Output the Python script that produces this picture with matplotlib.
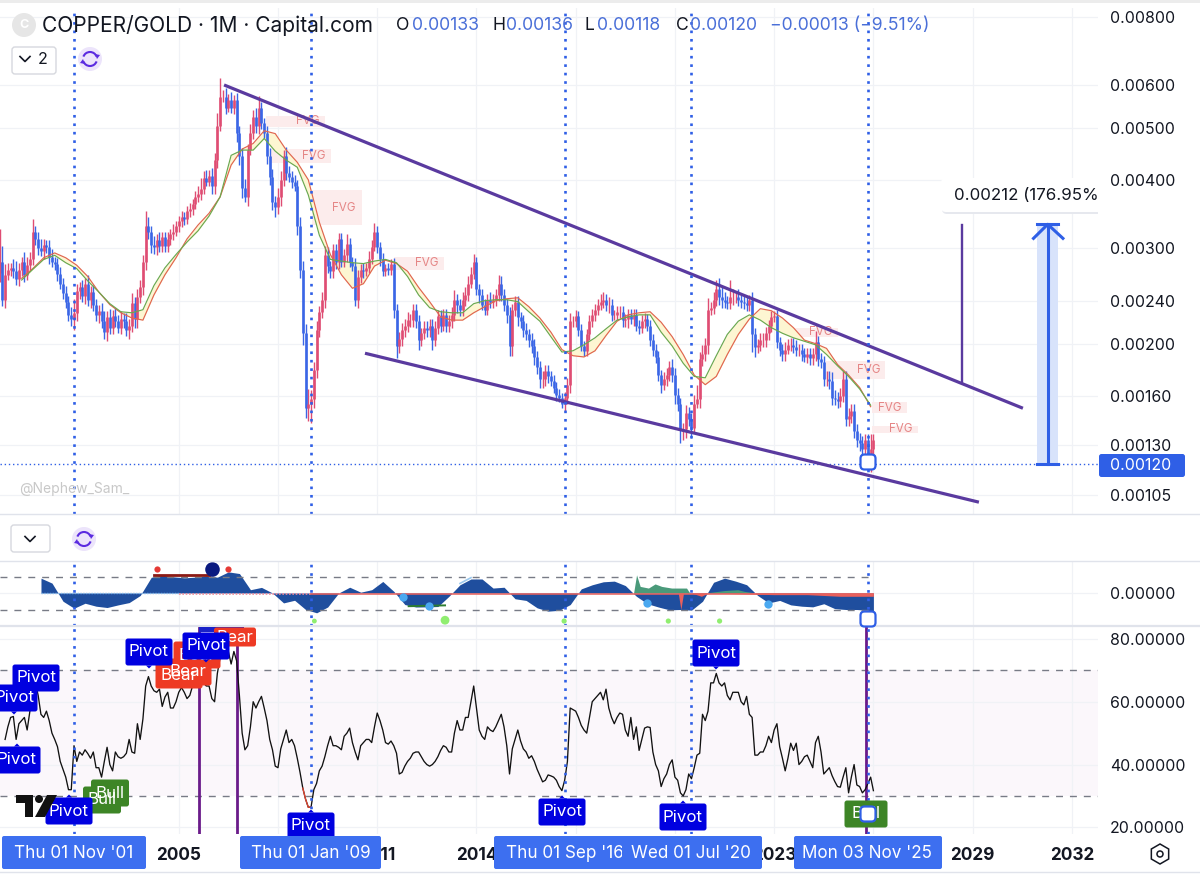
#!/usr/bin/env python3
"""COPPER/GOLD monthly chart with oscillator and RSI panes, values read off the screenshot."""
import numpy as np
import matplotlib
matplotlib.use("Agg")
import matplotlib.pyplot as plt
from matplotlib.patches import FancyBboxPatch, Rectangle, Circle, Polygon, RegularPolygon, Arc

plt.rcParams["font.family"] = ["Inter", "DejaVu Sans"]

W, H = 1200, 883
TXT = "#131722"
BLUE = "#2f5fe6"
LABEL = "#3d6ff0"
PURPLE = "#5a3a9f"
UP = "#df4d73"
DOWN = "#3b66e6"
GRID = "#f0f2f6"

# ---- monthly data, Aug 1999 to Jan 2026, prices in units of 1e-5 ----
start_year = 1999 + 7 / 12
first_open = 270
close = [
    283, 241, 268, 274, 276,
    272, 263, 274, 283, 268, 279, 287, 322, 312, 300, 296, 304,
    302, 289, 283, 280, 269, 258, 248, 239, 226, 222, 228, 250,
    254, 245, 258, 241, 249, 236, 226, 230, 220, 210, 224, 214,
    225, 220, 214, 222, 220, 212, 216, 238, 222, 244, 254, 283,
    330, 322, 304, 301, 311, 303, 314, 303, 312, 318, 322, 330,
    336, 342, 339, 351, 354, 362, 373, 378, 385, 404, 398, 408,
    390, 437, 505, 570, 570, 545, 562, 545, 562, 490, 443, 388,
    373, 455, 490, 524, 504, 545, 510, 490, 443, 406, 365, 357,
    373, 400, 443, 413, 406, 397, 390, 329, 274, 209, 152, 155,
    158, 179, 212, 229, 241, 291, 278, 272, 298, 283, 312, 283,
    291, 305, 283, 278, 241, 265, 274, 272, 276, 287, 302, 322,
    302, 286, 272, 276, 274, 280, 231, 198, 204, 212, 216, 221,
    221, 231, 220, 203, 209, 214, 212, 216, 203, 214, 225, 216,
    226, 216, 220, 226, 241, 236, 231, 241, 246, 258, 269, 283,
    252, 246, 236, 231, 241, 239, 241, 246, 258, 246, 236, 226,
    198, 231, 239, 224, 220, 212, 208, 203, 198, 189, 181, 172,
    172, 178, 174, 171, 166, 161, 159, 155, 159, 168, 220, 220,
    225, 212, 198, 194, 208, 220, 226, 231, 236, 239, 241, 236,
    236, 226, 226, 229, 229, 221, 222, 226, 222, 226, 216, 214,
    220, 222, 216, 203, 195, 189, 175, 168, 172, 175, 181, 175,
    161, 155, 139, 139, 149, 145, 140, 155, 158, 187, 191, 199,
    231, 233, 241, 252, 244, 241, 239, 238, 244, 244, 244, 241,
    239, 238, 236, 241, 208, 197, 199, 203, 203, 209, 216, 224,
    225, 201, 195, 191, 195, 199, 199, 197, 195, 195, 191, 189,
    191, 188, 191, 201, 187, 185, 172, 172, 171, 159, 158, 157,
    160, 172, 145, 147, 150, 138, 133, 131, 128, 133, 120, 128,
    133,
]
upper_wick = [
    42, 20, 12, 8, 6,
    10, 12, 8, 6, 12, 10, 8, 18, 8, 10, 12, 8,
    6, 8, 10, 6, 8, 8, 6, 8, 6, 8, 14, 8,
    6, 8, 6, 10, 6, 8, 6, 6, 8, 10, 6, 8,
    6, 8, 6, 8, 6, 8, 6, 10, 6, 8, 8, 8,
    22, 12, 8, 12, 8, 10, 8, 8, 10, 8, 10, 6,
    8, 10, 8, 8, 10, 8, 10, 12, 20, 12, 14, 10,
    14, 12, 28, 48, 18, 22, 16, 20, 14, 18, 14, 16,
    14, 12, 18, 16, 20, 28, 14, 12, 14, 16, 14, 10,
    14, 16, 12, 18, 12, 10, 12, 10, 14, 10, 8, 10,
    6, 6, 8, 6, 8, 12, 10, 6, 8, 8, 8, 8,
    8, 14, 8, 6, 10, 8, 6, 8, 6, 10, 8, 12,
    8, 6, 8, 5, 6, 6, 8, 6, 6, 6, 6, 8,
    6, 6, 6, 6, 5, 6, 6, 6, 6, 6, 6, 6,
    6, 6, 6, 8, 10, 6, 6, 8, 8, 8, 8, 10,
    6, 6, 6, 6, 6, 8, 6, 6, 10, 8, 6, 6,
    8, 6, 6, 6, 5, 6, 6, 5, 6, 6, 5, 5,
    6, 5, 5, 4, 4, 4, 4, 3, 4, 5, 8, 5,
    6, 5, 5, 4, 5, 6, 6, 6, 6, 8, 8, 6,
    8, 6, 5, 6, 6, 6, 5, 6, 6, 6, 6, 5,
    6, 6, 5, 5, 5, 5, 5, 4, 5, 5, 5, 6,
    5, 5, 4, 4, 5, 4, 4, 6, 10, 6, 8, 6,
    12, 6, 8, 10, 12, 10, 8, 6, 18, 8, 6, 8,
    5, 6, 6, 5, 8, 6, 5, 6, 6, 6, 5, 6,
    5, 6, 5, 5, 6, 5, 6, 6, 6, 5, 5, 5,
    5, 5, 5, 10, 6, 5, 5, 6, 6, 6, 5, 5,
    6, 6, 6, 5, 5, 5, 4, 4, 4, 3, 3, 8,
    3,
]
lower_wick = [
    10, 6, 8, 6, 8,
    8, 6, 8, 8, 8, 6, 6, 8, 8, 8, 6, 10,
    8, 8, 6, 6, 8, 6, 6, 6, 6, 6, 10, 8,
    8, 6, 8, 6, 8, 6, 6, 8, 6, 6, 8, 6,
    6, 5, 5, 6, 6, 5, 8, 6, 8, 8, 6, 8,
    10, 10, 10, 8, 10, 8, 8, 8, 8, 8, 8, 6,
    8, 8, 8, 6, 8, 8, 8, 8, 10, 8, 8, 8,
    12, 12, 16, 12, 12, 14, 10, 12, 14, 20, 16, 16,
    8, 14, 10, 14, 14, 16, 12, 10, 14, 14, 12, 14,
    10, 14, 10, 12, 8, 10, 8, 12, 10, 10, 6, 8,
    12, 6, 6, 6, 6, 8, 8, 8, 8, 8, 8, 6,
    6, 8, 6, 6, 6, 8, 6, 8, 6, 6, 6, 6,
    8, 8, 6, 6, 6, 6, 8, 10, 6, 6, 6, 6,
    6, 6, 6, 8, 5, 5, 6, 6, 8, 5, 6, 6,
    5, 6, 6, 6, 6, 8, 6, 6, 6, 6, 5, 6,
    6, 8, 5, 5, 5, 6, 6, 6, 6, 6, 6, 8,
    8, 8, 6, 8, 6, 6, 5, 6, 6, 6, 5, 6,
    6, 5, 5, 4, 4, 4, 3, 3, 5, 4, 6, 5,
    5, 5, 4, 4, 4, 5, 5, 6, 5, 5, 6, 6,
    8, 6, 5, 5, 6, 6, 6, 8, 5, 6, 5, 6,
    5, 6, 5, 5, 5, 5, 4, 6, 4, 5, 4, 5,
    6, 5, 8, 6, 5, 4, 6, 3, 3, 6, 5, 5,
    8, 5, 6, 6, 8, 8, 6, 6, 6, 8, 6, 6,
    6, 6, 6, 6, 15, 8, 5, 5, 6, 6, 6, 6,
    5, 5, 5, 5, 5, 4, 5, 5, 5, 5, 5, 4,
    5, 5, 5, 5, 5, 5, 5, 5, 6, 5, 4, 5,
    4, 4, 4, 4, 4, 4, 4, 4, 4, 4, 2, 4,
    4,
]
rsi = [
    np.nan, np.nan, 48, 52, 55,
    55.3, 48, 53, 54, 55, 51, 57, 60, 66, 62, 56, 55,
    57, 54, 50, 48, 45.7, 41, 38.5, 36, 32, 32, 46, 41,
    44, 43, 44.7, 43.5, 42, 44, 39, 39, 36, 41, 45.5, 40,
    38, 44, 42.5, 42, 42.5, 43.6, 48, 44, 43.6, 53, 48, 54.5,
    65, 68, 65, 63.5, 63, 64, 58.5, 61.5, 63, 58, 58, 60,
    63, 64.5, 63, 61, 62, 65, 66, 66, 67, 66, 65, 65,
    61, 60, 69, 74, 77, 75, 76, 72, 76, 73, 62, 50,
    44.7, 46, 52, 60, 58, 60, 61.7, 58, 54, 48, 44.7, 39.5,
    39, 45, 48, 51, 47, 48, 46, 42, 37.5, 32.5, 29, 26.4,
    26.5, 32, 34, 38, 39.5, 42.5, 46, 49, 46, 46, 45.5, 44.7,
    49, 50, 51.6, 47, 44, 41.5, 46, 47, 48, 48, 47, 52,
    56.4, 54, 51, 47, 46.5, 47.5, 46, 43.6, 37, 37.5, 39.5, 41,
    42, 43.6, 44, 44, 42.5, 41, 40, 39.5, 40, 41, 42.5, 44.5,
    46, 45.5, 44, 44, 50, 54, 51, 51, 55, 55, 60, 65,
    58, 51, 49, 48, 52, 51, 50.5, 52, 54, 56, 52, 46,
    37, 45, 48, 51, 47.5, 45, 44, 42, 42.8, 41, 38.5, 36.5,
    34.5, 35, 36.7, 36.4, 36, 35, 33, 31.7, 35, 41, 58, 57.5,
    57, 55, 52.5, 51, 50, 55, 60, 61, 62, 63, 60.6, 64,
    58, 55, 53, 55, 56.4, 56, 51, 49, 55, 48, 52, 44.5,
    48, 51.6, 52, 51.8, 44, 40, 38, 33, 35.5, 37, 40, 41.5,
    36, 35, 31, 30, 32, 37, 35.5, 39, 43, 43.6, 56, 54,
    57, 66, 66, 69, 66, 65, 66, 62, 60.6, 63, 63, 63,
    60, 59, 61.7, 56, 55, 43, 43, 44, 44, 46, 49, 47,
    51, 53, 45.7, 42, 38, 42, 46.8, 44.5, 46.8, 40, 41, 42.5,
    43, 41, 39, 47, 49, 44, 37, 38, 39, 36.5, 34.6, 33,
    32.8, 36, 39, 31, 36, 40, 33.5, 33, 31, 32, 34, 36,
    31.7,
]

# moving averages, one value every four months from early 2000
ma_start = 2000.25
ma_slow = [
    264, 275, 288, 294, 288, 279, 266, 249, 236, 228, 223, 221, 246, 268, 288, 312, 331, 348,
    373, 427, 457, 468, 494, 488, 455, 432, 401, 335, 292, 268, 253, 258, 278, 285, 281, 272,
    254, 239, 224, 221, 221, 228, 234, 240, 242, 243, 234, 223, 210, 195, 190, 189, 194, 207,
    220, 226, 228, 229, 219, 206, 191, 175, 168, 174, 191, 208, 222, 232, 230, 223, 214, 203,
    200, 196, 183, 175, 166, 153,
]
ma_fast = [
    262, 274, 286, 291, 282, 275, 261, 249, 237, 229, 228, 231, 256, 276, 292, 308, 323, 344,
    373, 445, 455, 455, 478, 453, 436, 423, 376, 317, 286, 284, 282, 281, 284, 286, 282, 266,
    246, 233, 229, 228, 228, 237, 240, 241, 241, 239, 229, 220, 206, 193, 194, 199, 205, 213,
    221, 224, 226, 226, 210, 198, 184, 174, 173, 190, 208, 220, 226, 221, 214, 209, 205, 202,
    199, 191, 182, 174, 165, 154,
]

# oscillator, scaled so the dashed guides sit at +/-1
osc_start = 2000.835
osc_main = [
    .9, .6, -.5, -.92, -.62, -.8, -.88, -.72, -.58, -.15, .95, 1.08, .98, .92, .96, 1.04, .96, 1.28,
    1.18, .2, .34, 0, -.6, -.44, -1.0, -1.2, -.85, 0, .35, .05, .2, .7, .1, -.7, -.85, -.84,
    -.82, -.2, .5, .85, .85, .3, .35, -.35, -.45, -.9, -1.1, -1.05, -.7, .25, .5, .68, .72, .45,
    -.2, -.65, -.85, -1.02, -1, -1.04, -.5, .65, .9, .72, .5, -.15, -.6, -.45, -.72, -.8, -.84,
    -.65, -.95, -1, -1, -1.05, -1.1,
]
osc_green_years = [2018.75, 2018.84, 2018.95, 2019.2, 2019.4, 2019.6, 2019.9, 2020.1, 2020.35,
                   2020.45, 2020.6, 2020.9, 2021.3, 2021.5, 2021.9, 2022.1, 2022.45]
osc_green = [0, 1.1, .4, .3, .55, .4, .3, .3, .3, 0, 0, 0, .1, .15, .2, .1, 0]
osc_red_years = [2020.1, 2020.18, 2020.26, 2020.5, 2020.8, 2021.0, 2023.0, 2024.0, 2025.0, 2026.0]
osc_red = [0, -1.0, 0, 0, -.2, 0, -.1, -.1, -.2, -.2]
osc_bull_years = [2011.78, 2012.56, 2019.15, 2022.8]
osc_bull = [-.25, -.8, -.6, -.65]
osc_up_years = [2009.1, 2013.05, 2016.65, 2019.8, 2021.35]
osc_up = [-1.7, -1.65, -1.7, -1.7, -1.7]
osc_up_size = [12, 40, 14, 14, 14]

# falling wedge and measured move (years, prices in 1e-5)
wedge_top_years, wedge_top = [2006.37, 2030.52], [600, 152]
wedge_low_years, wedge_low = [2010.63, 2029.19], [192, 102]
move_years, move_prices = [2028.68, 2028.68], [331, 170]
target_year, target_low, target_high = 2031.27, 120, 332

fvg_left = [2007.64, 2007.76, 2009.03, 2011.51, 2023.51, 2024.57, 2025.96, 2025.96]
fvg_right = [2009.42, 2009.60, 2010.54, 2013.02, 2024.93, 2026.35, 2027.02, 2027.35]
fvg_top = [526, 457, 384, 289, 214, 186, 156, 141]
fvg_bottom = [502, 431, 331, 274, 206, 172, 149, 137]
fvg_label = [2008.91, 2009.09, 2010.00, 2012.50, 2024.41, 2025.87, 2026.50, 2026.83]

crosshair_years = [2001.833, 2009.0, 2016.667, 2020.5, 2025.833]
grid_years = list(range(2005, 2033, 3))
shown_years = [2005, 2011, 2014, 2023, 2029, 2032]
price_ticks = [800, 600, 500, 400, 300, 240, 200, 160, 130, 105]
rsi_ticks = [80, 60, 40, 20]
last_price = 120

XMIN, XMAX = 1999.596, 2032.79
years = start_year + np.arange(len(close)) / 12
c = np.array(close) * 1e-5
o = np.r_[first_open * 1e-5, c[:-1]]
hi = np.maximum(o, c) + np.array(upper_wick) * 1e-5
lo = np.minimum(o, c) - np.array(lower_wick) * 1e-5

fig = plt.figure(figsize=(W / 100, H / 100), dpi=100, facecolor="white")


def pane(top, bottom):
    ax = fig.add_axes([0, 1 - bottom / H, 1098 / W, (bottom - top) / H])
    for s in ax.spines.values():
        s.set_visible(False)
    ax.set_xlim(XMIN, XMAX)
    ax.set_xticks(grid_years)
    ax.grid(True, color=GRID, lw=0.9)
    ax.set_axisbelow(True)
    ax.yaxis.tick_right()
    ax.tick_params(length=0, labelbottom=False, pad=8.6, labelsize=11.4, labelcolor=TXT)
    for yr in crosshair_years:
        ax.axvline(yr, color=BLUE, lw=1.9, ls=(0, (1, 2.2)), zorder=6)
    return ax


# ---- price pane ----
ax = pane(8, 514)
ax.set_yscale("log")
ax.set_ylim(0.00097, 0.00832)
ax.set_yticks([t * 1e-5 for t in price_ticks])
ax.set_yticklabels([f"{t * 1e-5:.5f}" for t in price_ticks])
ax.minorticks_off()

for i in range(len(fvg_left)):
    ax.fill_between([fvg_left[i], fvg_right[i]], fvg_bottom[i] * 1e-5, fvg_top[i] * 1e-5,
                    color="#fcecec", lw=0, zorder=1)
    ax.text(fvg_label[i], np.sqrt(fvg_top[i] * fvg_bottom[i]) * 1e-5, "FVG", color="#e58686",
            fontsize=8.4, ha="center", va="center", zorder=2)

ma_years = ma_start + np.arange(len(ma_slow)) / 3
slow = np.array(ma_slow) * 1e-5
fast = np.array(ma_fast) * 1e-5
ax.fill_between(ma_years, slow, fast, color="#fdf6d2", lw=0, zorder=2)

colors = np.where(c >= o, UP, DOWN)
ax.vlines(years, lo, hi, colors=colors, lw=1.0, zorder=3)
ax.vlines(years, o, c, colors=colors, lw=1.9, zorder=3)

ax.plot(ma_years, slow, color="#e0654f", lw=0.85, zorder=4)
ax.plot(ma_years, fast, color="#6aa84f", lw=0.85, zorder=4)

ax.plot(wedge_top_years, np.array(wedge_top) * 1e-5, color=PURPLE, lw=2.3, zorder=5,
        solid_capstyle="butt")
ax.plot(wedge_low_years, np.array(wedge_low) * 1e-5, color=PURPLE, lw=2.3, zorder=5,
        solid_capstyle="butt")
ax.plot(move_years, np.array(move_prices) * 1e-5, color=PURPLE, lw=1.7, zorder=5)

ax.axhline(last_price * 1e-5, color=BLUE, lw=1.0, ls=(0, (1, 2)), zorder=2)
ax.fill_between([target_year - 0.32, target_year + 0.32], target_low * 1e-5, target_high * 1e-5,
                color="#d8e3fb", lw=0, zorder=3)
ax.plot([target_year, target_year], [target_low * 1e-5, target_high * 1e-5], color=BLUE, lw=2.2,
        zorder=5)
for p in (target_low, target_high):
    ax.plot([target_year - 0.32, target_year + 0.32], [p * 1e-5, p * 1e-5], color=BLUE, lw=2.2,
            zorder=5)
ax.plot([target_year - 0.43, target_year, target_year + 0.46],
        [target_high * 0.942e-5, target_high * 1e-5, target_high * 0.942e-5], color=BLUE, lw=2.2,
        zorder=5)

# ---- oscillator pane ----
ax2 = pane(561, 626)
ax2.set_ylim(-2, 1.94)
ax2.set_yticks([0])
ax2.set_yticklabels(["0.00000"])
osc_years = np.r_[osc_start + np.arange(len(osc_main) - 1) / 3, 2026.0]
osc_vals = np.array(osc_main)
# pale edge only shows on the rising stretches above zero
rising = np.r_[False, np.diff(osc_vals) > 0.25] & (osc_vals > 0)
ax2.plot(osc_years, np.ma.masked_where(~rising, osc_vals + 0.08), color="#9cc9ee", lw=1.2, zorder=2)
ax2.fill_between(osc_years, 0, osc_vals, color="#1f4e9e", lw=0, zorder=3)
ax2.fill_between(osc_green_years, 0, osc_green, color="#4a9a7a", lw=0, zorder=4)
ax2.fill_between(osc_red_years, 0, osc_red, color="#e8605c", lw=0, zorder=4)
ax2.plot([2000.835, 2005.0], [0, 0], color="#7db4ea", lw=1.0, ls=(0, (1, 1)), zorder=4)
ax2.plot([2005.0, 2009.0], [-0.04, -0.04], color="#f08a9a", lw=1.2, ls=(0, (1, 1)), zorder=4)
ax2.plot([2009.0, 2026.0], [-0.04, -0.04], color="#e8605c", lw=1.1, zorder=4)
for level in (1, -1):
    ax2.plot([XMIN, 2026.0], [level, level], color="#787b86", lw=1.0, ls=(0, (5, 5)), zorder=4)
ax2.plot([2004.25, 2005.9], [1.12, 1.12], color="#8b1a14", lw=2.0, zorder=5)
ax2.plot([2011.95, 2013.05], [-.8, -.75], color="#2e7d32", lw=1.4, zorder=5)
ax2.scatter([2004.33, 2006.5], [1.45, 1.45], s=20, color="#e53935", lw=0, zorder=6)
ax2.scatter([2006.0], [1.45], s=110, color="#0a1a80", lw=0, zorder=6)
ax2.scatter(osc_bull_years, osc_bull, s=36, color="#4aa8f0", lw=0, zorder=6)
ax2.scatter(osc_up_years, osc_up, s=osc_up_size, color="#90ee70", lw=0, zorder=6)

# ---- RSI pane ----
ax3 = pane(626, 834)
ax3.set_ylim(17.9, 84.1)
ax3.set_yticks(rsi_ticks)
ax3.set_yticklabels([f"{t:.5f}" for t in rsi_ticks])
ax3.axhspan(30, 70, color="#fbf7fb", lw=0, zorder=0)
ax3.axhline(70, color="#787b86", lw=1.0, ls=(0, (5, 5)), zorder=2)
ax3.axhline(30, color="#787b86", lw=1.0, ls=(0, (5, 5)), zorder=2)
ax3.plot(years, rsi, color="#111111", lw=0.95, zorder=5)
ax3.plot(years[110:114], rsi[110:114], color="#e0442e", lw=0.95, zorder=5)
for yr in (2005.61, 2006.77, 2025.77):
    ax3.axvline(yr, color="#6a1b8a", lw=2.0, zorder=4)
ax3.set_xticks(shown_years)
ax3.set_xticks(grid_years, minor=True)
ax3.grid(True, which="minor", color=GRID, lw=0.9)
ax3.tick_params(axis="x", which="minor", length=0)
ax3.set_xticklabels([str(y) for y in shown_years], fontweight="bold", fontsize=12.4)
ax3.tick_params(axis="x", labelbottom=True, pad=9)

# ---- screen furniture, in pixel coordinates ----
ui = fig.add_axes([0, 0, 1, 1], zorder=10)
ui.set_xlim(0, W)
ui.set_ylim(H, 0)
ui.axis("off")

for y in (514, 561, 872):
    ui.plot([0, W], [y, y], color="#e0e3eb", lw=1.0)
ui.plot([0, W], [626, 626], color="#e0e3eb", lw=1.6)
ui.add_patch(Rectangle((0, 0), W, 3, color="#ececec", lw=0))


def tag(x0, y0, x1, y1, color, z=11, r=2.5):
    ui.add_patch(FancyBboxPatch((x0 + r, y0 + r), x1 - x0 - 2 * r, y1 - y0 - 2 * r,
                                boxstyle=f"round,pad={r},rounding_size={r}", fc=color, ec="none",
                                zorder=z))


def flag(cx, cy, text, color, width=47, height=27, nub=None, tc="white", z=11):
    tag(cx - width / 2, cy - height / 2, cx + width / 2, cy + height / 2, color, z=z)
    if nub == "up":
        ui.add_patch(Polygon([(cx - 3, cy - height / 2), (cx, cy - height / 2 - 3),
                              (cx + 3, cy - height / 2)], fc=color, ec="none", zorder=z))
    if nub == "down":
        ui.add_patch(Polygon([(cx - 3, cy + height / 2), (cx, cy + height / 2 + 3),
                              (cx + 3, cy + height / 2)], fc=color, ec="none", zorder=z))
    ui.text(cx, cy, text, color=tc, fontsize=12.2, ha="center", va="center", zorder=z + 0.1)


def handle(cx, cy):
    ui.add_patch(FancyBboxPatch((cx - 4, cy - 4), 8, 8, boxstyle="round,pad=3.5,rounding_size=4",
                                fc="white", ec=BLUE, lw=1.6, zorder=14))


def sync_icon(cx, cy):
    ui.add_patch(Circle((cx, cy), 12, fc="#ece4fb", ec="none"))
    ui.add_patch(Arc((cx, cy), 14, 14, theta1=200, theta2=340, color="#5b2be0", lw=1.5))
    ui.add_patch(Arc((cx, cy), 14, 14, theta1=20, theta2=160, color="#5b2be0", lw=1.5))
    ui.add_patch(Polygon([(cx + 5, cy - 5), (cx + 10, cy - 4), (cx + 7, cy)], fc="#5b2be0", ec="none"))
    ui.add_patch(Polygon([(cx - 5, cy + 5), (cx - 10, cy + 4), (cx - 7, cy)], fc="#5b2be0", ec="none"))


def chevron(cx, cy):
    ui.plot([cx - 5, cx, cx + 5], [cy - 2.5, cy + 2.5, cy - 2.5], color=TXT, lw=1.2)


# header
ui.add_patch(Circle((24, 25), 12, fc="#e6e6e6", ec="none"))
ui.text(24, 25.5, "C", color="white", fontsize=9, ha="center", va="center", fontweight="bold")
ui.text(42, 26, "COPPER/GOLD · 1M · Capital.com", color=TXT, fontsize=15.1, va="center")
for x, s in [(396, "O"), (492, "H"), (585, "L"), (676, "C")]:
    ui.text(x, 26, s, color=TXT, fontsize=12.7, va="center")
for x, s in [(412, "0.00133"), (506, "0.00136"), (597, "0.00118"), (690, "0.00120"),
             (770, "−0.00013 (−9.51%)")]:
    ui.text(x, 26, s, color="#4a6fd8", fontsize=12.7, va="center")

# pane buttons
ui.add_patch(FancyBboxPatch((14, 49), 40, 23, boxstyle="round,pad=2,rounding_size=3", fc="white",
                            ec="#d6d8de", lw=1.0))
chevron(25, 59)
ui.text(43, 60, "2", color=TXT, fontsize=11.5, ha="center", va="center")
sync_icon(90, 59)
ui.add_patch(FancyBboxPatch((13, 527), 35, 23, boxstyle="round,pad=2,rounding_size=3", fc="white",
                            ec="#d6d8de", lw=1.0))
chevron(30, 539)
sync_icon(84, 539)

ui.text(19, 489, "@Nephew_Sam_", color="#c8c8c8", fontsize=10, va="center")

# measured move label, cut off by the price scale
clip = Rectangle((930, 170), 168, 50, transform=ui.transData, fc="none", ec="none")
ui.add_patch(clip)
shadow = FancyBboxPatch((945, 182), 170, 29, boxstyle="round,pad=3,rounding_size=5", fc="#e6e8ee",
                        ec="none", zorder=11)
box = FancyBboxPatch((944, 181), 170, 28, boxstyle="round,pad=3,rounding_size=5", fc="white",
                     ec="none", zorder=11)
ui.add_patch(shadow)
ui.add_patch(box)
shadow.set_clip_path(clip)
box.set_clip_path(clip)
move_text = ui.text(954, 195.5, "0.00212 (176.95%)", color=TXT, fontsize=12.2, va="center", zorder=12)
move_text.set_clip_path(clip)
move_text.set_clip_on(True)

tag(1099, 454, 1185, 477, BLUE)
ui.text(1110, 465.5, "0.00120", color="white", fontsize=11.4, va="center", zorder=12)

handle(868, 462)
handle(868, 619)

# RSI pane flags
PIVOT = "#0000e0"
BEAR = "#ee3a24"
BULL = "#3d8526"
flag(102, 800, "Bull", BULL, width=38)
flag(110, 793, "Bull", BULL, width=38)
flag(197, 655, "Bear", BEAR)
flag(179, 675, "Bear", BEAR)
flag(188, 672, "Bear", BEAR)
ui.add_patch(Rectangle((199, 627), 45, 5, fc="#1a22c8", ec="none", zorder=11))
flag(235, 637, "Bear", BEAR, width=42, height=19)
for cx, cy, nub in [(36, 678, None), (14, 698, "down"), (17, 760, "up"), (69, 811, "up"),
                    (149, 652, "down"), (206, 646, "down"), (311, 826, "up"), (562, 812, "up"),
                    (716, 653, "down"), (683, 817, "up")]:
    flag(cx, cy, "Pivot", PIVOT, nub=nub, z=12)

flag(866, 814, "Bull", BULL, width=43)
handle(868, 814)

# TradingView mark
ui.add_patch(Polygon([(16, 795), (33, 795), (33, 817), (25, 817), (25, 803), (16, 803)], fc="#111111",
                     ec="none", zorder=12.5))
ui.add_patch(Circle((39, 799), 4, fc="#111111", ec="none", zorder=12.5))
ui.add_patch(Polygon([(47, 795), (57, 795), (45, 817), (35, 817)], fc="#111111", ec="none", zorder=12.5))

# crosshair date labels, later ones sit on top of earlier ones
for i, (x0, x1, cx, s) in enumerate([(2, 146, 74, "Thu 01 Nov '01"), (240, 381, 311, "Thu 01 Jan '09"),
                                     (494, 640, 565, "Thu 01 Sep '16"), (622, 762, 691, "Wed 01 Jul '20"),
                                     (794, 942, 867, "Mon 03 Nov '25")]):
    z = 13 + i * 0.2
    ui.add_patch(FancyBboxPatch((x0 + 2, 838), x1 - x0 - 4, 29, boxstyle="round,pad=2,rounding_size=2",
                                fc=LABEL, ec="none", zorder=z))
    ui.text(cx, 853, s, color="white", fontsize=12.3, ha="center", va="center", zorder=z + 0.1)

# settings icon
ui.add_patch(RegularPolygon((1160, 854), 6, radius=10, orientation=0, fc="none", ec=TXT, lw=1.1))
ui.add_patch(Circle((1160, 854), 3, fc="none", ec=TXT, lw=1.1))

fig.savefig("out.png", dpi=100)
